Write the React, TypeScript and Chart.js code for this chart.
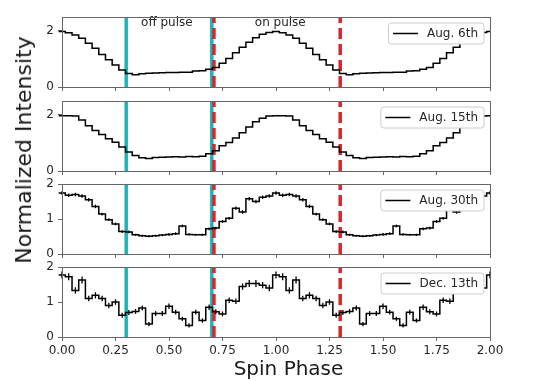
import React, { useEffect, useRef } from 'react';
import { Chart, registerables } from 'chart.js';

Chart.register(...registerables);

// ---------------- data ----------------
const xTicks = [0, 0.25, 0.5, 0.75, 1, 1.25, 1.5, 1.75, 2];
const xTickLabels = ['0.00', '0.25', '0.50', '0.75', '1.00', '1.25', '1.50', '1.75', '2.00'];
const yTicksCoarse = [0, 2];
const yTickLabelsCoarse = ['0', '2'];
const yTicksFine = [0, 1, 2];
const yTickLabelsFine = ['0', '1', '2'];

const seriesNames = ['Aug. 6th', 'Aug. 15th', 'Aug. 30th', 'Dec. 13th'];

// one pulse cycle, 32 phase bins (bin i centred at phase i/32); plotted twice (phase 0-2)
const aug6 = [1.98, 1.94, 1.86, 1.74, 1.56, 1.38, 1.16, 0.97, 0.79, 0.61, 0.48, 0.44, 0.47, 0.49, 0.50, 0.51,
  0.52, 0.52, 0.53, 0.53, 0.57, 0.58, 0.63, 0.70, 0.85, 1.02, 1.22, 1.42, 1.60, 1.76, 1.88, 1.95];
const aug15 = [1.97, 1.97, 1.96, 1.82, 1.62, 1.45, 1.30, 1.15, 1.03, 0.86, 0.68, 0.55, 0.47, 0.45, 0.48, 0.49,
  0.50, 0.51, 0.50, 0.52, 0.51, 0.53, 0.62, 0.72, 0.90, 1.02, 1.18, 1.37, 1.57, 1.76, 1.88, 1.96];
const aug30 = [1.74, 1.68, 1.70, 1.66, 1.55, 1.36, 1.14, 0.98, 0.86, 0.64, 0.63, 0.55, 0.52, 0.51, 0.52, 0.54,
  0.56, 0.58, 0.80, 0.56, 0.55, 0.55, 0.72, 0.74, 0.93, 1.02, 1.31, 1.20, 1.58, 1.50, 1.62, 1.66];
const aug30Err = [0.05, 0.05, 0.05, 0.05, 0.05, 0.05, 0.04, 0.04, 0.04, 0.04, 0.04, 0.03, 0.03, 0.03, 0.03, 0.03,
  0.04, 0.04, 0.04, 0.03, 0.03, 0.03, 0.04, 0.04, 0.04, 0.04, 0.05, 0.05, 0.05, 0.05, 0.05, 0.05];
const dec13 = [1.77, 1.72, 1.33, 1.63, 1.10, 1.19, 1.10, 0.90, 1.00, 0.62, 0.70, 0.73, 0.83, 0.37, 0.67, 0.67,
  0.88, 0.71, 0.52, 0.33, 0.71, 0.47, 0.85, 0.72, 0.66, 1.05, 1.02, 1.44, 1.53, 1.53, 1.48, 1.40];
const dec13Err = [0.10, 0.10, 0.09, 0.10, 0.08, 0.09, 0.08, 0.08, 0.08, 0.07, 0.07, 0.07, 0.07, 0.06, 0.07, 0.07,
  0.08, 0.07, 0.06, 0.06, 0.07, 0.06, 0.08, 0.07, 0.07, 0.08, 0.08, 0.09, 0.10, 0.10, 0.09, 0.09];

const offPulseEdges = [0.3, 0.7];
const onPulseEdges = [0.71, 1.3];
const regionLabels = ['off pulse', 'on pulse'];
const regionLabelPhases = [0.49, 1.02];
const regionLabelLevel = 2.18;
const cycles = 2;

// ---------------- styling ----------------
const FONT = '"DejaVu Sans", sans-serif';
const AXIS = '#666666';
const TEXT = '#262626';
const CYAN = '#1fb4b4';
const RED = '#d8262b';
const PANEL_TOPS = [17, 101, 184, 267];
const PLOT_H = 70;
const PAD_TOP = 14;

const panels = [
  { values: aug6, errs: null as number[] | null, yMax: 2.5, yTicks: yTicksCoarse, yLabels: yTickLabelsCoarse, notes: true },
  { values: aug15, errs: null as number[] | null, yMax: 2.5, yTicks: yTicksCoarse, yLabels: yTickLabelsCoarse, notes: false },
  { values: aug30, errs: aug30Err, yMax: 2, yTicks: yTicksFine, yLabels: yTickLabelsFine, notes: false },
  { values: dec13, errs: dec13Err, yMax: 2, yTicks: yTicksFine, yLabels: yTickLabelsFine, notes: false },
];

const alignPx = (p: number) => Math.round(p - 0.5) + 0.5;

const decorPlugin = {
  id: 'panelDecor',
  afterDatasetsDraw(chart: any, _args: any, opts: any) {
    const { ctx, chartArea: a, scales } = chart;
    ctx.save();
    // notes
    if (opts.notes && opts.notes.length) {
      ctx.font = `12px ${FONT}`;
      ctx.fillStyle = TEXT;
      ctx.textAlign = 'center';
      ctx.textBaseline = 'alphabetic';
      opts.notes.forEach((n: any) => {
        ctx.fillText(n.text, scales.x.getPixelForValue(n.x), scales.y.getPixelForValue(n.y));
      });
    }
    // frame
    ctx.strokeStyle = AXIS;
    ctx.lineWidth = 1;
    const l = alignPx(a.left), r = alignPx(a.right), t = alignPx(a.top), b = alignPx(a.bottom);
    ctx.strokeRect(l, t, r - l, b - t);
    // legend
    if (opts.label) {
      ctx.font = `12px ${FONT}`;
      const tw = ctx.measureText(opts.label).width;
      const bw = 4.5 + 25 + 9 + tw + 6;
      const bh = 21;
      const bx = a.right - 6 - bw;
      const by = a.top + 6;
      const rr = 3;
      ctx.beginPath();
      ctx.moveTo(bx + rr, by);
      ctx.lineTo(bx + bw - rr, by);
      ctx.arcTo(bx + bw, by, bx + bw, by + rr, rr);
      ctx.lineTo(bx + bw, by + bh - rr);
      ctx.arcTo(bx + bw, by + bh, bx + bw - rr, by + bh, rr);
      ctx.lineTo(bx + rr, by + bh);
      ctx.arcTo(bx, by + bh, bx, by + bh - rr, rr);
      ctx.lineTo(bx, by + rr);
      ctx.arcTo(bx, by, bx + rr, by, rr);
      ctx.closePath();
      ctx.fillStyle = '#ffffff';
      ctx.fill();
      ctx.strokeStyle = '#cccccc';
      ctx.lineWidth = 1;
      ctx.stroke();
      ctx.beginPath();
      ctx.strokeStyle = '#000000';
      ctx.lineWidth = 1.5;
      ctx.moveTo(bx + 4.5, by + bh / 2);
      ctx.lineTo(bx + 29.5, by + bh / 2);
      ctx.stroke();
      ctx.fillStyle = TEXT;
      ctx.textAlign = 'left';
      ctx.textBaseline = 'middle';
      ctx.fillText(opts.label, bx + 38.5, by + bh / 2 + 0.5);
    }
    ctx.restore();
  },
};

function buildConfig(k: number): any {
  const p = panels[k];
  const n = p.values.length;
  const w = 1 / n;
  const total = n * cycles;
  const isLast = k === panels.length - 1;

  const linePts: { x: number; y: number }[] = [{ x: -w / 2, y: p.values[0] }];
  for (let i = 0; i <= total; i++) linePts.push({ x: i * w, y: p.values[i % n] });
  linePts.push({ x: total * w + w / 2, y: p.values[total % n] });

  const datasets: any[] = [
    {
      data: linePts,
      borderColor: '#000000',
      borderWidth: 1.5,
      stepped: 'middle',
      pointRadius: 0,
      clip: false,
      order: 0,
    },
  ];

  if (p.errs) {
    const errs = p.errs;
    const errPts: any[] = [];
    for (let i = 0; i <= total; i++) errPts.push({ x: i * w, y: p.values[i % n], e: errs[i % n] });
    datasets.push({
      data: errPts,
      showLine: false,
      pointStyle: 'line',
      pointRotation: 90,
      pointRadius: (c: any) => {
        const s = c.chart.scales && c.chart.scales.y;
        if (!s || !c.raw) return 0;
        const r = Math.abs(s.getPixelForValue(c.raw.y + c.raw.e) - s.getPixelForValue(c.raw.y));
        return isFinite(r) ? r : 0;
      },
      pointHoverRadius: 0,
      pointBorderColor: '#000000',
      pointBackgroundColor: '#000000',
      pointBorderWidth: 1.3,
      clip: false,
      order: 0,
    });
  }

  onPulseEdges.forEach((x) =>
    datasets.push({
      data: [{ x, y: 0 }, { x, y: p.yMax }],
      borderColor: RED,
      borderWidth: 3.5,
      borderDash: [11, 5],
      pointRadius: 0,
      order: 1,
    })
  );
  offPulseEdges.forEach((x) =>
    datasets.push({
      data: [{ x, y: 0 }, { x, y: p.yMax }],
      borderColor: CYAN,
      borderWidth: 3.5,
      pointRadius: 0,
      order: 2,
    })
  );

  const notes = p.notes
    ? regionLabels.map((text, i) => ({ text, x: regionLabelPhases[i], y: regionLabelLevel }))
    : [];

  return {
    type: 'line',
    data: { datasets },
    plugins: [decorPlugin],
    options: {
      responsive: false,
      maintainAspectRatio: false,
      animation: false,
      devicePixelRatio: 1,
      events: [],
      layout: { padding: { top: PAD_TOP, left: 0, right: 61, bottom: isLast ? 0 : 8 } },
      plugins: {
        legend: { display: false },
        tooltip: { enabled: false },
        panelDecor: { label: seriesNames[k], notes },
      },
      scales: {
        x: {
          type: 'linear',
          min: 0,
          max: cycles,
          afterBuildTicks: (s: any) => {
            s.ticks = xTicks.map((v) => ({ value: v }));
          },
          afterFit: (s: any) => {
            s.height = isLast ? 25 : 4;
          },
          grid: { drawOnChartArea: false, drawTicks: true, tickLength: 4, color: AXIS, lineWidth: 1 },
          border: { display: false },
          ticks: {
            display: isLast,
            padding: 3,
            color: TEXT,
            font: { size: 12, family: FONT },
            maxRotation: 0,
            autoSkip: false,
            callback: (_v: any, i: number) => xTickLabels[i],
          },
        },
        y: {
          type: 'linear',
          min: 0,
          max: p.yMax,
          afterBuildTicks: (s: any) => {
            s.ticks = p.yTicks.map((v) => ({ value: v }));
          },
          afterFit: (s: any) => {
            s.width = 62;
          },
          grid: { drawOnChartArea: false, drawTicks: true, tickLength: 4, color: AXIS, lineWidth: 1 },
          border: { display: false },
          ticks: {
            padding: 4,
            color: TEXT,
            font: { size: 12, family: FONT },
            autoSkip: false,
            callback: (_v: any, i: number) => p.yLabels[i],
          },
        },
      },
    },
  };
}

export default function App() {
  const refs = [
    useRef<HTMLCanvasElement>(null),
    useRef<HTMLCanvasElement>(null),
    useRef<HTMLCanvasElement>(null),
    useRef<HTMLCanvasElement>(null),
  ];

  useEffect(() => {
    Chart.defaults.font.family = FONT;
    const charts = refs.map((r, k) => new Chart(r.current as HTMLCanvasElement, buildConfig(k)));
    return () => charts.forEach((c) => c.destroy());
  }, []);

  return (
    <div style={{ position: 'fixed', left: 0, top: 0, width: 551, height: 381, background: '#ffffff', overflow: 'hidden' }}>
      {panels.map((_, k) => {
        const isLast = k === panels.length - 1;
        const h = PAD_TOP + PLOT_H + (isLast ? 25 : 12);
        return (
          <canvas
            key={k}
            ref={refs[k]}
            width={551}
            height={h}
            style={{ position: 'absolute', left: 0, top: PANEL_TOPS[k] - PAD_TOP, width: 551, height: h }}
          />
        );
      })}
      <div
        style={{
          position: 'absolute',
          left: 24.4,
          top: 150,
          transform: 'translate(-50%, -50%) rotate(-90deg)',
          font: `22px ${FONT}`,
          lineHeight: 1,
          whiteSpace: 'nowrap',
          color: '#1a1a1a',
        }}
      >
        Normalized Intensity
      </div>
      <div
        style={{
          position: 'absolute',
          left: 288.5,
          top: 357.6,
          transform: 'translateX(-50%)',
          font: `20px ${FONT}`,
          lineHeight: 1,
          whiteSpace: 'nowrap',
          color: '#1a1a1a',
        }}
      >
        Spin Phase
      </div>
    </div>
  );
}
